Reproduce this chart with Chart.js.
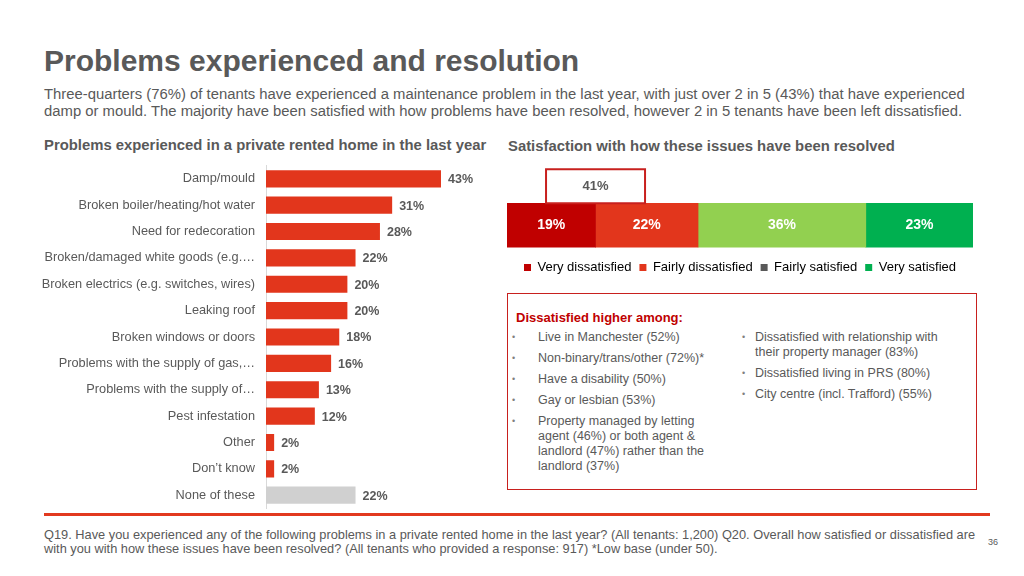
<!DOCTYPE html>
<html>
<head>
<meta charset="utf-8">
<script src="https://cdn.jsdelivr.net/npm/chart.js@4.4.1/dist/chart.umd.min.js"></script>
<style>
  body { margin: 0; width: 1024px; height: 576px; background: #fff; position: relative; overflow: hidden;
         font-family: "Liberation Sans", Arial, sans-serif; color: #595959; }
  .abs { position: absolute; }
  #title { left: 44px; top: 44px; font-size: 30px; font-weight: bold; }
  #intro { left: 44px; top: 86px; font-size: 14.85px; line-height: 17px; width: 960px; }
  .sub { top: 137px; font-size: 14.85px; font-weight: bold; }
  #leftWrap { left: 0; top: 147px; width: 500px; height: 380px; }
  #rightWrap { left: 507px; top: 160px; width: 466px; height: 124px; }
  #rule { left: 44px; top: 513px; width: 946px; height: 3px; background: #e2391f; }
  #note { left: 44px; top: 528px; width: 935px; font-size: 12.8px; line-height: 13.5px; }
  #page { left: 988px; top: 537px; font-size: 9px; }
  #box { left: 507px; top: 293px; width: 468px; height: 195px; border: 1.6px solid #c8201e; }
  #box h4 { margin: 0; position: absolute; left: 8px; top: 16px; font-size: 13px; color: #c00000; }
  #box ul { list-style: none; margin: 0; padding: 0; position: absolute; top: 36px; font-size: 12.5px; line-height: 15px; }
  #box li { position: relative; margin-bottom: 6px; }
  #box li::before { content: "\2022"; position: absolute; font-size: 9px; color: #7f7f7f; }
  #colA { left: 30px; width: 178px; }
  #colA li::before { left: -26px; }
  #colB { left: 247px; width: 200px; }
  #colB li::before { left: -13px; }
</style>
</head>
<body>
<div id="title" class="abs">Problems experienced and resolution</div>
<div id="intro" class="abs">Three-quarters (76%) of tenants have experienced a maintenance problem in the last year, with just over 2 in 5 (43%) that have experienced damp or mould. The majority have been satisfied with how problems have been resolved, however 2 in 5 tenants have been left dissatisfied.</div>
<div class="abs sub" style="left:44px">Problems experienced in a private rented home in the last year</div>
<div class="abs sub" style="left:508px;top:138px">Satisfaction with how these issues have been resolved</div>

<div id="leftWrap" class="abs"><canvas id="problems"></canvas></div>
<div id="rightWrap" class="abs"><canvas id="satisfaction"></canvas></div>

<div id="box" class="abs">
  <h4>Dissatisfied higher among:</h4>
  <ul id="colA">
    <li>Live in Manchester (52%)</li>
    <li>Non-binary/trans/other (72%)*</li>
    <li>Have a disability (50%)</li>
    <li>Gay or lesbian (53%)</li>
    <li>Property managed by letting agent (46%) or both agent &amp; landlord (47%) rather than the landlord (37%)</li>
  </ul>
  <ul id="colB">
    <li>Dissatisfied with relationship with their property manager (83%)</li>
    <li>Dissatisfied living in PRS (80%)</li>
    <li>City centre (incl. Trafford) (55%)</li>
  </ul>
</div>

<div id="rule" class="abs"></div>
<div id="note" class="abs">Q19. Have you experienced any of the following problems in a private rented home in the last year? (All tenants: 1,200) Q20. Overall how satisfied or dissatisfied are with you with how these issues have been resolved? (All tenants who provided a response: 917) *Low base (under 50).</div>
<div id="page" class="abs">36</div>

<script>
// Q19 problems (% of all tenants)
const problemLabels = [
    'Damp/mould', 'Broken boiler/heating/hot water', 'Need for redecoration',
    'Broken/damaged white goods (e.g.\u2026', 'Broken electrics (e.g. switches, wires)', 'Leaking roof',
    'Broken windows or doors', 'Problems with the supply of gas,\u2026', 'Problems with the supply of\u2026',
    'Pest infestation', 'Other', 'Don\u2019t know', 'None of these'
];
const problemValues = [43, 31, 28, 22, 20, 20, 18, 16, 13, 12, 2, 2, 22];

// Q20 satisfaction (% of those who answered)
const satLabels = ['Very dissatisfied', 'Fairly dissatisfied', 'Fairly satisfied', 'Very satisfied'];
const satValues = [19, 22, 36, 23];
const satColors = ['#c00000', '#e2361c', '#92d050', '#00b050'];
const satLegendColors = ['#c00000', '#e2361c', '#595959', '#00b050'];

const RED = '#e2361c';
const GREY_BAR = '#d0d0d0';
const TEXT = '#595959';
const FONT = '"Liberation Sans", Arial, sans-serif';

// value labels to the right of each bar
const barValueLabels = {
    id: 'barValueLabels',
    afterDatasetsDraw(chart) {
        const ctx = chart.ctx;
        ctx.save();
        ctx.font = 'bold 12.5px ' + FONT;
        ctx.fillStyle = TEXT;
        ctx.textBaseline = 'middle';
        chart.getDatasetMeta(0).data.forEach((bar, i) => {
            ctx.fillText(problemValues[i] + '%', bar.x + 7, bar.y + 1);
        });
        ctx.restore();
    }
};

new Chart(document.getElementById('problems'), {
    type: 'bar',
    data: {
        labels: problemLabels,
        datasets: [{
            data: problemValues,
            backgroundColor: problemValues.map((v, i) => i === problemValues.length - 1 ? GREY_BAR : RED),
            barPercentage: 0.65,
            categoryPercentage: 1
        }]
    },
    options: {
        indexAxis: 'y',
        responsive: true,
        maintainAspectRatio: false,
        animation: false,
        layout: { padding: 0 },
        plugins: { legend: { display: false }, tooltip: { enabled: false } },
        scales: {
            x: { display: false, min: 0, max: 57.5 },
            y: {
                grid: { display: false, drawTicks: false },
                border: { display: true, color: '#d9d9d9' },
                ticks: { color: TEXT, font: { family: FONT, size: 12.75 }, padding: 11, autoSkip: false },
                afterFit: scale => { scale.width = 266; }
            }
        }
    },
    plugins: [barValueLabels]
});

// white % inside segments + the 41% dissatisfied call-out
const segmentLabels = {
    id: 'segmentLabels',
    afterDatasetsDraw(chart) {
        const ctx = chart.ctx;
        ctx.save();
        ctx.font = 'bold 14px ' + FONT;
        ctx.fillStyle = '#fff';
        ctx.textAlign = 'center';
        ctx.textBaseline = 'middle';
        chart.data.datasets.forEach((ds, i) => {
            const el = chart.getDatasetMeta(i).data[0];
            const c = el.getCenterPoint();
            ctx.fillText(ds.data[0] + '%', c.x, c.y);
        });

        // call-out box over the boundary of the two dissatisfied segments
        const first = chart.getDatasetMeta(0).data[0];
        const cx = chart.scales.x.getPixelForValue(satValues[0]);
        const top = first.y - first.height / 2;
        const w = 99, h = 34;
        ctx.fillStyle = '#fff';
        ctx.fillRect(cx - w / 2, top - h, w, h);
        ctx.strokeStyle = '#c8201e';
        ctx.lineWidth = 2;
        ctx.strokeRect(cx - w / 2, top - h, w, h);
        ctx.fillStyle = TEXT;
        ctx.font = 'bold 13px ' + FONT;
        ctx.fillText((satValues[0] + satValues[1]) + '%', cx, top - h / 2);
        ctx.restore();
    }
};

new Chart(document.getElementById('satisfaction'), {
    type: 'bar',
    data: {
        labels: ['All'],
        datasets: satLabels.map((lab, i) => ({
            label: lab,
            data: [satValues[i]],
            backgroundColor: satColors[i],
            barThickness: 44
        }))
    },
    options: {
        indexAxis: 'y',
        responsive: true,
        maintainAspectRatio: false,
        animation: false,
        layout: { padding: { top: 37.5 } },
        plugins: {
            tooltip: { enabled: false },
            legend: {
                position: 'bottom',
                labels: {
                    color: TEXT,
                    font: { family: FONT, size: 13 },
                    boxWidth: 7,
                    boxHeight: 7,
                    padding: 8,
                    generateLabels: chart => satLabels.map((lab, i) => ({
                        text: lab,
                        fillStyle: satLegendColors[i],
                        strokeStyle: satLegendColors[i],
                        lineWidth: 0,
                        datasetIndex: i
                    }))
                }
            }
        },
        scales: {
            x: { display: false, stacked: true, min: 0, max: 100 },
            y: { display: false, stacked: true }
        }
    },
    plugins: [segmentLabels]
});
</script>
</body>
</html>
